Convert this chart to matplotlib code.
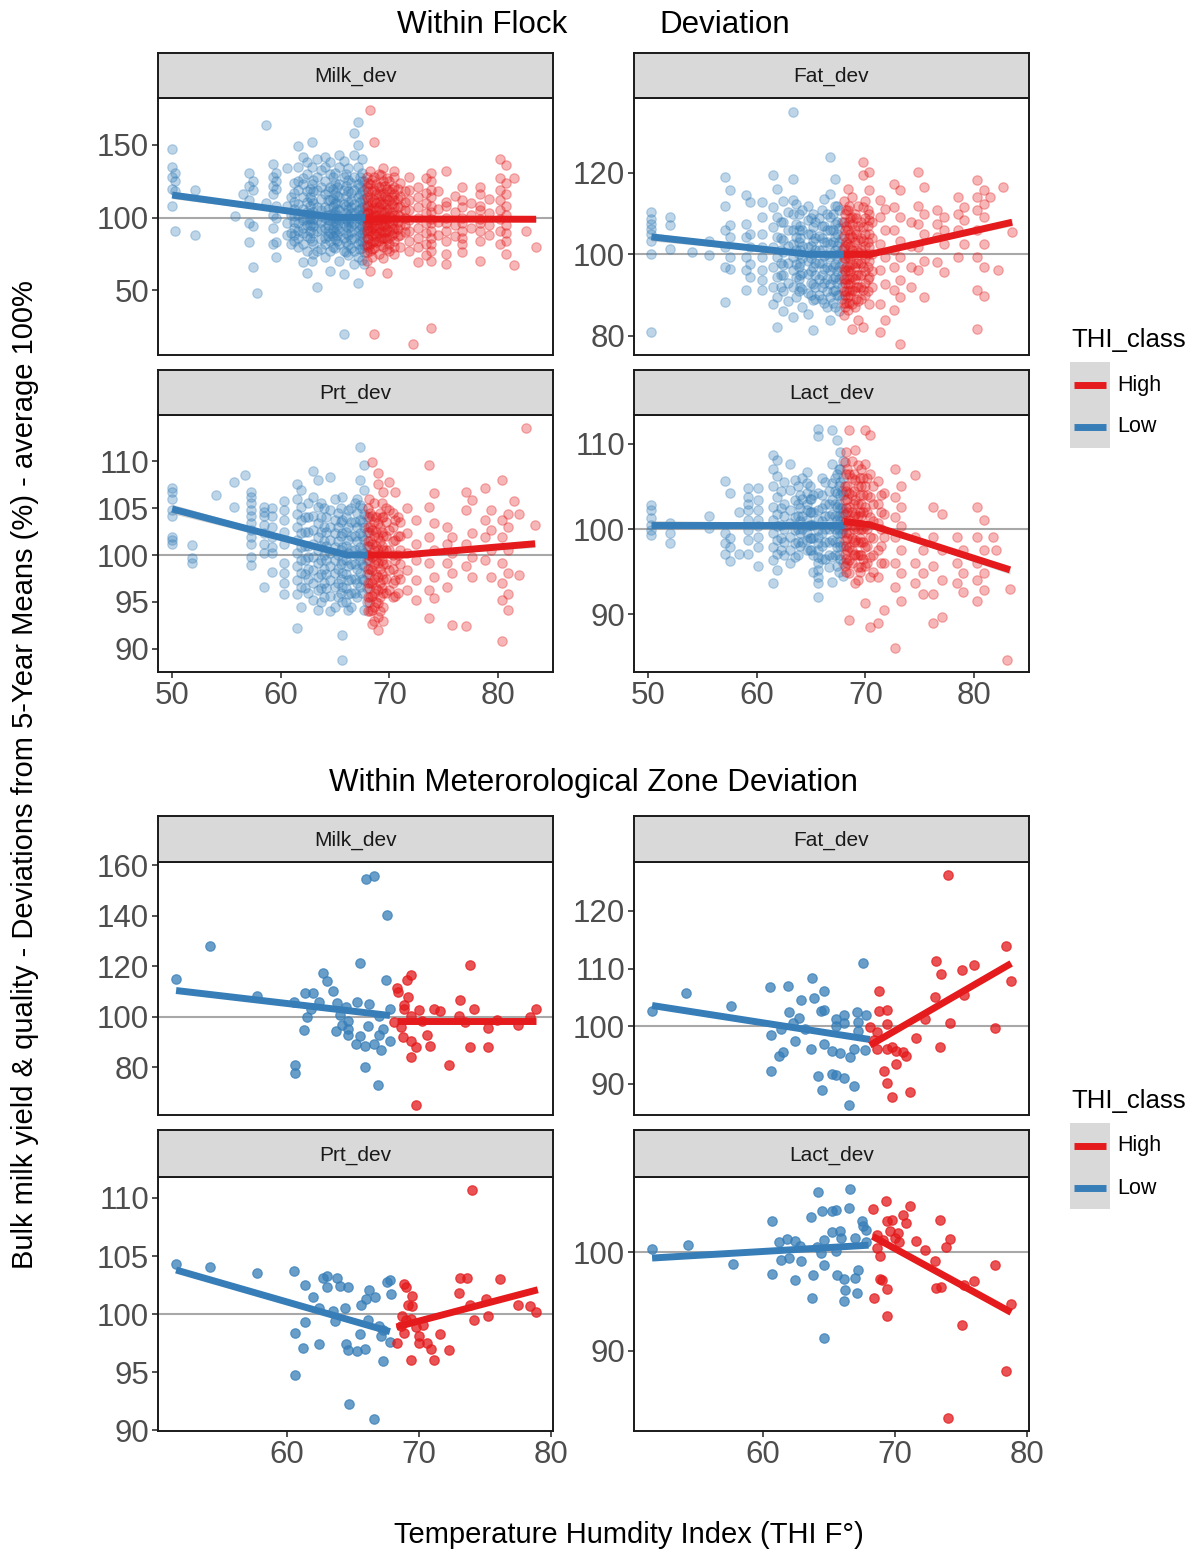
import matplotlib
matplotlib.use('Agg')
import matplotlib.pyplot as plt
from matplotlib.patches import Rectangle
from matplotlib.lines import Line2D
import numpy as np

plt.rcParams['font.family'] = ['Liberation Sans', 'DejaVu Sans']

RED = '#E41A1C'
BLUE = '#377EB8'

# ---------------- Within Flock deviation (columns of points) ----------------
# Milk_dev
mf_low_cols = [50.0, 50.3, 52.1, 55.8, 56.5, 57.1, 57.4, 57.8, 58.6, 59.3, 59.6, 60.6, 60.9, 61.6, 62.0, 62.4,
               62.9, 63.3, 63.7, 64.1, 64.5, 65.0, 65.4, 65.8, 66.2, 66.7, 67.1, 67.5,
               61.2, 63.0, 64.8, 66.0, 67.7, 64.3, 65.2, 66.5, 67.3, 62.7]
mf_low_vals = [[147, 135, 128, 120, 108], [131, 125, 118, 91], [119, 88], [101], [116],
               [131, 122, 112, 96, 83], [125, 119, 94, 66], [48], [164, 110],
               [137, 128, 122, 116, 102, 93, 82], [131, 125, 120, 108, 100, 83, 73],
               [134, 108, 96, 88], [114, 102, 89, 82],
               [149, 135, 125, 119, 109, 102, 96, 91, 86, 80], [142, 127, 123, 114, 106, 100, 98, 93, 89, 82, 69],
               [138, 130, 118, 111, 104, 99, 95, 87, 77, 62], [152, 135, 123, 112, 102, 96, 84, 70],
               [140, 128, 119, 107, 98, 91, 77, 52], [133, 121, 113, 105, 101, 97, 92, 85, 78],
               [142, 135, 125, 116, 107, 100, 93, 86, 82, 73], [138, 130, 121, 112, 102, 98, 89, 84, 77, 63],
               [131, 124, 117, 110, 104, 100, 96, 90, 85, 79], [143, 135, 123, 114, 105, 98, 91, 82, 70],
               [139, 128, 119, 109, 100, 96, 86, 77, 61, 20], [134, 126, 118, 111, 106, 101, 97, 93, 88, 81, 74],
               [158, 143, 128, 119, 109, 103, 96, 86, 77, 68], [166, 150, 135, 123, 114, 105, 100, 91, 82, 73, 55],
               [140, 131, 125, 118, 112, 107, 102, 98, 94, 89, 84, 79, 71],
               [124, 117, 111, 106, 101, 97, 93, 88, 84], [126, 118, 110, 104, 99, 94, 89, 82, 75],
               [128, 120, 113, 108, 103, 97, 92, 87, 80], [130, 122, 115, 108, 103, 99, 94, 89, 83, 76],
               [125, 119, 113, 108, 104, 100, 96, 91, 86, 81, 76, 68],
               [118, 112, 106, 102, 98, 95, 91, 87], [121, 115, 110, 106, 102, 99, 95, 92, 88, 84],
               [124, 117, 112, 107, 103, 100, 97, 94, 90, 85, 79], [128, 121, 116, 111, 106, 102, 99, 95, 92, 88, 84, 78],
               [120, 114, 108, 103, 99, 95, 91, 86]]
mf_high_cols = [67.9, 68.2, 68.6, 69.0, 69.4, 69.8, 70.4, 71.0, 71.8, 72.2, 72.6, 73.4, 73.8, 74.5, 75.2,
                76.0, 76.7, 77.5, 78.3, 79.2, 80.2, 80.7, 81.5, 82.6, 83.5,
                68.4, 69.2, 70.0, 70.8, 68.0, 68.8, 69.6, 70.2, 71.4]
mf_high_vals = [[128, 121, 114, 108, 103, 99, 95, 91, 86, 81, 76, 70], [174, 132, 123, 114, 105, 100, 96, 91, 82, 77, 63],
                [152, 128, 119, 112, 107, 102, 98, 94, 89, 84, 79, 20], [130, 121, 116, 111, 107, 102, 98, 93, 89, 84, 75],
                [134, 125, 117, 110, 104, 99, 95, 90, 86, 80, 72], [127, 120, 113, 106, 99, 92, 85, 78, 62],
                [132, 128, 121, 116, 112, 107, 102, 98, 93, 89, 84, 80, 75], [124, 115, 108, 101, 95, 88, 80],
                [128, 119, 112, 105, 98, 91, 84, 77], [13], [121, 114, 107, 100, 93, 86, 80, 69],
                [127, 117, 110, 103, 96, 89, 82, 74], [131, 125, 119, 114, 108, 104, 99, 96, 91, 86, 82, 77, 70, 24],
                [118, 106, 97, 88], [132, 111, 108, 100, 96, 91, 84, 75, 68], [115, 104, 95, 87],
                [121, 112, 107, 100, 96, 91, 86, 82, 76], [110, 102, 93], [121, 116, 108, 105, 99, 96, 91, 84, 70],
                [113, 103, 95, 88], [140, 127, 119, 112, 105, 99, 91, 82], [136, 124, 116, 108, 102, 95, 89, 84, 75],
                [127, 67], [91], [80],
                [126, 118, 111, 106, 101, 97, 93, 88, 83, 78, 73], [129, 122, 115, 109, 104, 100, 96, 91, 86, 81],
                [125, 118, 112, 106, 101, 96, 91, 86, 82, 77], [120, 113, 107, 102, 97, 92, 87],
                [124, 118, 112, 107, 103, 100, 97, 93, 89, 85, 80], [123, 116, 110, 105, 101, 98, 95, 91, 87, 83],
                [122, 115, 109, 104, 100, 97, 94, 90, 86], [120, 114, 109, 104, 100, 96, 92, 88],
                [118, 111, 105, 100, 95, 90]]
mf_fit_low_x = [50.0, 65.0, 67.8]
mf_fit_low_y = [115.5, 100.0, 100.0]
mf_fit_low_se = [2.5, 0.8, 0.8]
mf_fit_high_x = [67.8, 83.5]
mf_fit_high_y = [99.0, 98.8]
mf_fit_high_se = [0.8, 1.6]

# Fat_dev
ff_low_cols = [50.3, 52.0, 54.0, 55.6, 57.1, 57.5, 59.0, 59.4, 60.5, 61.5, 61.9, 62.4, 62.9, 63.3, 63.6, 64.2,
               64.7, 65.2, 65.7, 66.2, 66.7, 67.2, 67.6,
               62.2, 63.9, 65.4, 66.5, 67.8, 64.0, 65.0, 66.0, 67.0, 67.4]
ff_low_vals = [[110.4, 108.8, 107.5, 106.3, 105.1, 103.4, 100.2, 80.9], [109.3, 107.1, 101.4], [100.6], [103.4, 99.8],
               [119.0, 112.0, 105.9, 101.8, 96.9, 88.3], [115.7, 107.1, 104.3, 99.3, 96.5],
               [114.5, 107.5, 104.3, 99.3, 96.1, 91.2], [112.8, 105.1, 101.8, 97.7, 94.4],
               [112.8, 109.2, 105.1, 101.8, 99.3, 96.1, 93.6, 91.2], [119.4, 111.6, 106.7, 101.8, 96.9, 92.0, 87.9],
               [116.1, 109.2, 104.3, 99.3, 94.4, 89.5, 82.2], [113.0, 108.0, 103.5, 100.5, 97.5, 95.0, 91.0, 86.0],
               [110.5, 106.0, 102.0, 98.0, 93.0, 88.5], [134.9, 118.6, 113.3, 110.0, 105.9, 102.6, 99.3, 96.1, 92.0, 84.6],
               [112.4, 107.5, 104.3, 101.0, 97.7, 94.4, 89.5], [111.0, 106.0, 102.0, 99.0, 95.5, 91.5, 87.0],
               [112.0, 108.4, 105.1, 101.8, 98.5, 95.3, 90.4, 85.4], [110.0, 106.7, 103.4, 100.2, 96.9, 92.8, 88.7, 81.4],
               [109.0, 104.5, 101.0, 98.0, 94.0, 90.0], [113.5, 107.0, 103.0, 99.5, 96.5, 93.0, 88.0],
               [123.9, 114.9, 109.2, 105.9, 102.6, 99.3, 96.1, 92.8, 89.5, 83.8],
               [118.6, 112.0, 107.5, 104.3, 101.0, 97.7, 94.4, 91.2, 87.1],
               [111.0, 106.5, 103.0, 100.0, 97.0, 94.0, 90.0, 86.0],
               [108, 104, 101, 98, 95, 92], [110, 106, 103, 100, 97, 94, 91], [108, 104, 101, 98, 95, 92, 89],
               [110, 106, 103, 100, 97, 94, 91, 87], [108, 104, 101, 98, 95, 92, 89],
               [107, 104, 101, 98, 95, 92], [109, 105, 102, 99, 96, 93, 90], [111, 107, 104, 101, 98, 95, 92, 89],
               [110, 106, 103, 100, 97, 94, 91, 88], [112, 108, 105, 102, 99, 96, 93, 90]]
ff_high_cols = [68.0, 68.4, 68.8, 69.3, 69.8, 70.3, 71.3, 71.8, 72.6, 73.2, 74.2, 74.8, 75.4, 76.6, 77.2, 78.5,
                79.1, 80.3, 80.9, 81.5, 82.2, 82.7, 83.5,
                68.2, 68.6, 69.0, 69.6, 70.0, 68.1, 68.5, 69.1, 70.2, 70.6]
ff_high_vals = [[113.0, 108.0, 104.5, 101.5, 99.0, 96.5, 94.0, 91.0, 88.0, 85.0],
                [116.1, 110.8, 105.9, 102.6, 99.3, 96.1, 92.8, 89.5, 86.3],
                [114.1, 109.2, 107.5, 104.3, 101.0, 97.7, 94.4, 91.2, 87.9, 81.8],
                [112.0, 107.0, 103.5, 100.5, 98.0, 95.0, 92.0, 88.5, 84.0],
                [122.7, 119.4, 111.6, 106.7, 103.4, 100.2, 96.9, 91.2, 82.2],
                [120.2, 115.7, 110.0, 108.4, 105.1, 101.8, 98.5, 94.4, 87.9],
                [113.3, 109.2, 102.6, 96.1, 87.9, 81.0], [111.2, 105.9, 99.3, 92.8, 83.8],
                [117.3, 111.6, 105.9, 101.0, 96.9, 91.2, 86.3], [115.7, 109.2, 103.4, 99.3, 93.6, 89.5, 78.1],
                [108.0, 102.0, 97.0, 92.0], [120.2, 112.0, 107.5, 101.8, 96.1], [116.5, 110.0, 105.1, 98.5, 89.5],
                [110.8, 107.5, 104.3, 98.1], [109.2, 105.9, 102.6, 95.7], [114.1, 110.0, 105.9, 99.3],
                [111.6, 108.4, 102.6], [118.2, 114.1, 110.8, 105.9, 99.3, 91.2, 81.8],
                [115.7, 112.4, 109.2, 102.6, 96.9, 89.9], [114.1], [96.1], [116.5], [105.5],
                [111, 107, 103, 100, 97, 94, 91, 88], [109, 105, 102, 99, 96, 93, 90],
                [110, 106, 103, 100, 97, 94, 91, 87], [108, 104, 101, 98, 95, 92, 89],
                [113, 109, 105, 102, 99, 96, 93, 90],
                [110, 106, 102, 99, 96, 93, 90, 87], [112, 108, 104, 100, 97, 94, 91, 88],
                [109, 105, 101, 98, 95, 92, 89], [111, 107, 103, 100, 97, 94, 91], [108, 104, 100, 96, 92]]
ff_fit_low_x = [50.3, 64.9, 68.0]
ff_fit_low_y = [104.3, 100.0, 100.0]
ff_fit_low_se = [1.0, 0.3, 0.3]
ff_fit_high_x = [68.0, 70.4, 83.5]
ff_fit_high_y = [100.0, 100.0, 107.9]
ff_fit_high_se = [0.3, 0.3, 0.9]

# Prt_dev
pf_low_cols = [50.0, 51.8, 54.0, 55.7, 56.7, 57.3, 58.5, 59.2, 60.3, 61.5, 61.9, 62.5, 63.0, 63.4, 64.0, 64.5,
               65.0, 65.6, 66.2, 66.8, 67.3, 67.7,
               62.2, 63.7, 65.3, 66.5, 67.9, 64.2, 65.5, 66.0, 67.0, 67.5]
pf_low_vals = [[107.1, 106.7, 106.0, 104.8, 104.1, 101.9, 101.6, 101.2], [101.1, 99.7, 99.1], [106.4], [107.8, 105.1],
               [108.5], [106.7, 106.2, 105.5, 104.8, 104.1, 103.4, 102.7, 101.9, 101.2, 99.8, 98.9],
               [105.1, 104.6, 104.1, 103.2, 102.3, 101.2, 100.2, 96.6], [105.0, 104.1, 103.0, 101.9, 100.9, 100.2, 98.2],
               [105.7, 104.8, 103.7, 102.5, 101.2, 99.1, 98.1, 97.0, 95.9],
               [107.6, 106.0, 104.4, 103.0, 101.6, 100.2, 98.8, 97.3, 95.9, 92.2],
               [106.9, 105.1, 103.7, 102.3, 100.9, 99.5, 98.1, 96.6, 94.5],
               [105.5, 104.0, 102.5, 101.0, 99.8, 98.5, 97.5, 96.0],
               [108.9, 106.2, 104.1, 102.7, 101.2, 99.8, 98.4, 97.0, 95.2],
               [108.0, 105.1, 103.4, 101.9, 100.5, 99.1, 97.7, 96.3, 94.2],
               [105.0, 103.0, 101.5, 100.0, 98.5, 97.0, 95.5],
               [108.3, 104.8, 103.0, 101.6, 100.2, 98.8, 97.3, 95.6, 94.0],
               [106.0, 103.7, 102.3, 100.9, 99.5, 98.1, 96.6, 94.5],
               [106.2, 103.7, 102.3, 100.9, 99.5, 98.1, 96.6, 95.0, 91.5, 88.8],
               [104.8, 103.0, 101.6, 100.2, 98.8, 97.3, 95.9, 94.2],
               [105.5, 103.5, 102.0, 100.5, 99.0, 97.5, 96.0],
               [111.5, 108.0, 105.3, 103.7, 102.3, 100.9, 99.5, 98.1, 96.6],
               [109.6, 106.9, 104.4, 103.0, 101.6, 100.2, 98.8, 97.3, 94.2],
               [104, 102.5, 101, 99.5, 98, 96.5], [105.5, 104, 102.5, 101, 99.5, 98, 96.5, 95],
               [104.5, 103, 101.5, 100, 98.5, 97, 95.5], [105, 103.5, 102, 100.5, 99, 97.5, 96, 94.5],
               [104, 102.5, 101, 99.5, 98, 96.5, 95],
               [104, 102.5, 101, 99.5, 98, 96.5], [105, 103.5, 102, 100.5, 99, 97.5, 96],
               [104, 102.5, 101, 99.5, 98, 96.5, 95], [106, 104.5, 103, 101.5, 100, 98.5, 97, 95.5],
               [105, 103.5, 102, 100.5, 99, 97.5, 96]]
pf_high_cols = [68.0, 68.4, 68.9, 69.4, 70.0, 70.5, 71.6, 72.4, 73.6, 74.1, 75.3, 75.8, 77.0, 77.6, 78.8, 79.3,
                80.4, 80.9, 81.5, 81.9, 82.6, 83.4,
                68.2, 68.6, 69.1, 69.7, 70.8, 68.1, 68.8, 69.3, 70.3, 71.0]
pf_high_vals = [[105.0, 103.0, 101.5, 100.0, 98.5, 97.0, 95.5, 94.0],
                [109.9, 104.1, 102.7, 101.2, 99.8, 98.4, 97.0, 95.6, 94.2, 92.7],
                [108.7, 107.6, 103.4, 101.9, 100.5, 99.1, 97.7, 96.3, 94.9, 93.4, 92.0],
                [106.7, 104.0, 102.0, 100.5, 99.0, 97.5, 96.0, 94.5, 93.0],
                [107.8, 104.8, 102.7, 100.5, 98.4, 96.3], [106.7, 103.7, 101.6, 99.5, 97.3, 95.6],
                [105.0, 102.3, 100.2, 98.4, 96.3], [103.7, 101.2, 99.5, 97.3, 95.2],
                [109.6, 105.1, 101.9, 99.1, 96.3, 93.3], [106.6, 103.4, 100.5, 97.7, 95.4],
                [103.0, 101.2, 99.1, 96.6], [101.9, 100.2, 98.1, 92.6], [106.7, 104.8, 101.2, 98.8, 92.4],
                [105.9, 102.3, 99.8, 97.7], [107.1, 103.7, 101.9, 99.5], [104.8, 102.7, 100.5, 97.7],
                [108.0, 103.7, 101.9, 99.1, 97.0, 95.2, 90.8], [104.4, 103.0, 100.5, 98.1, 95.9, 94.2],
                [105.7], [104.4, 97.9], [113.5], [103.2],
                [104.5, 103, 101.5, 100, 98.5, 97, 95.5, 94], [105.5, 103.5, 102, 100.5, 99, 97.5, 96, 94.5, 93],
                [104.5, 103, 101.5, 100, 98.5, 97, 95.5, 94], [105, 103.5, 102, 100.5, 99, 97.5, 96],
                [104, 102, 100, 98, 96],
                [106, 104, 102.5, 101, 99.5, 98, 96.5, 95], [104, 102.5, 101, 99.5, 98, 96.5, 95],
                [105.5, 104, 102.5, 101, 99.5, 98, 96.5], [104.5, 103, 101.5, 100, 98.5, 97, 95.5],
                [103.5, 102, 100.5, 99, 97.5]]
pf_fit_low_x = [50.0, 66.1, 68.0]
pf_fit_low_y = [104.9, 100.0, 100.0]
pf_fit_low_se = [0.5, 0.15, 0.15]
pf_fit_high_x = [68.0, 71.3, 83.4]
pf_fit_high_y = [100.0, 100.0, 101.2]
pf_fit_high_se = [0.15, 0.15, 0.4]

# Lact_dev
lf_low_cols = [50.3, 52.0, 55.6, 57.1, 57.5, 58.4, 59.2, 60.1, 61.5, 61.9, 62.5, 63.1, 63.5, 64.2, 64.6, 65.2,
               65.6, 66.3, 66.9, 67.4, 67.8,
               62.2, 63.8, 65.0, 66.0, 67.6, 67.95, 64.0, 64.9, 66.6, 67.2, 67.7]
lf_low_vals = [[102.8, 102.2, 101.3, 100.5, 99.9, 99.3], [100.7, 99.5, 98.3], [101.5, 100.1],
               [105.6, 99.5, 98.3, 97.1], [104.2, 98.9, 97.9, 96.2], [102.0, 97.1],
               [104.8, 103.8, 103.0, 102.2, 101.1, 99.9, 98.7, 97.1],
               [104.8, 103.4, 102.2, 101.1, 100.3, 99.1, 97.9, 95.6],
               [108.7, 107.1, 105.0, 102.6, 101.1, 99.5, 97.9, 96.4, 93.6],
               [108.1, 106.2, 103.8, 101.8, 100.3, 98.7, 97.1, 95.2], [105.5, 103.0, 101.5, 100.0, 98.5, 97.0],
               [107.7, 104.6, 102.2, 100.7, 99.1, 97.5, 96.0], [105.8, 103.4, 101.4, 99.9, 98.3, 96.7],
               [106.0, 103.5, 101.5, 100.0, 98.5],
               [106.7, 105.4, 104.2, 103.0, 102.2, 101.1, 100.3, 99.5, 98.7, 97.5],
               [104.0, 102.0, 100.5, 99.0, 97.0, 95.0],
               [111.8, 110.9, 104.2, 102.2, 101.1, 99.9, 99.1, 98.3, 97.5, 96.7, 96.0, 95.2, 94.4, 93.6, 92.0],
               [105.5, 103.0, 101.5, 100.0, 98.5, 96.5],
               [111.6, 107.7, 105.4, 103.4, 101.8, 100.3, 98.7, 96.7, 93.8],
               [110.5, 106.5, 104.2, 102.6, 101.1, 99.5, 97.9, 95.6], [104.5, 102.5, 101.5, 100.5, 99.5],
               [104.5, 102.5, 100.5, 99, 97.5], [105, 103, 101.5, 100, 98.5, 97], [103.5, 102, 100.5, 99, 97.5],
               [106, 104, 102.5, 101, 99.5, 98, 96.5], [107, 105, 103, 101.5, 100, 98.5, 97, 95],
               [108, 106, 104, 102, 100, 98, 96, 94.5],
               [104, 102.5, 101, 99.5, 98], [105, 103.5, 102, 100.5, 99, 97.5],
               [104.5, 103, 101.5, 100, 98.5, 97, 95.5], [106, 104.5, 103, 101.5, 100, 98.5, 97],
               [109, 107, 105.5, 104, 102.5, 101, 99.5, 98, 96.5]]
lf_high_cols = [68.1, 68.5, 69.0, 69.5, 70.0, 70.4, 71.2, 71.7, 72.7, 73.3, 74.6, 75.3, 76.2, 77.0, 78.4, 79.0,
                80.3, 80.9, 81.7, 82.0, 83.0, 83.3,
                68.2, 68.8, 69.3, 69.8, 70.7, 68.3, 68.9, 69.6, 70.1, 71.4]
lf_high_vals = [[107.9, 105.0, 103.4, 101.8, 100.3, 98.7, 97.1, 95.6],
                [111.6, 106.5, 104.2, 102.6, 101.1, 99.5, 97.9, 96.4, 94.8, 89.3],
                [109.3, 105.8, 103.4, 101.8, 100.3, 98.7, 97.1, 93.6],
                [106.0, 104.0, 102.0, 100.5, 99.0, 97.0, 95.0],
                [111.6, 107.7, 105.0, 102.6, 100.3, 97.9, 95.6, 91.3],
                [111.1, 106.5, 103.8, 101.4, 99.1, 96.7, 94.4, 88.5],
                [105.6, 103.0, 100.7, 97.5, 94.4, 88.9], [104.2, 101.8, 99.1, 96.0, 90.5],
                [107.1, 103.8, 101.4, 99.1, 96.0, 93.2, 86.0], [105.0, 102.6, 100.3, 97.5, 94.8, 91.6],
                [106.4, 99.1, 96.0, 93.6], [97.5, 94.8, 92.4], [102.6, 99.1, 95.6, 92.4, 88.9],
                [101.8, 97.5, 94.0, 89.7], [99.1, 96.0, 93.6], [97.5, 94.8, 92.6],
                [102.6, 99.1, 96.0, 94.0, 91.6], [101.1, 97.5, 94.8, 92.8], [99.1], [97.5], [84.6], [93.0],
                [109, 106.5, 104.5, 102.5, 101, 99.5, 98, 96.5, 95], [108, 106, 104, 102, 100.5, 99, 97.5, 96],
                [107.5, 105, 103, 101.5, 100, 98.5, 97, 95.5, 94], [106, 104, 102, 100, 98.5, 96.5],
                [105, 103, 101, 99, 97, 95],
                [107, 105, 103.5, 102, 100.5, 99, 97.5, 96], [106.5, 104.5, 103, 101.5, 100, 98.5, 97],
                [107, 105, 103, 101.5, 100, 98.5, 97, 95.5], [106, 104, 102, 100, 98, 96],
                [104, 102, 100, 98, 96]]
lf_fit_low_x = [50.3, 68.0]
lf_fit_low_y = [100.5, 100.5]
lf_fit_low_se = [0.5, 0.2]
lf_fit_high_x = [68.0, 70.4, 83.3]
lf_fit_high_y = [100.9, 100.5, 95.2]
lf_fit_high_se = [0.2, 0.2, 0.5]

# ---------------- Within Meteorological Zone deviation ----------------
mz_low_x = [51.6, 54.2, 57.7, 60.5, 61.4, 62.0, 62.7, 63.0, 63.5, 62.4, 61.8, 61.5, 61.3, 63.8, 64.5, 64.0, 64.6,
            64.2, 63.7, 64.6, 64.6, 65.5, 65.3, 66.2, 65.5, 66.1, 65.2, 65.9, 65.9, 66.0, 66.6, 67.6, 67.5, 67.8,
            67.0, 67.3, 67.0, 67.8, 66.6, 67.1, 66.9, 60.6, 60.6]
mz_low_y = [114.9, 127.8, 108.3, 105.7, 109.4, 109.4, 117.3, 113.9, 110.3, 105.7, 103.0, 99.7, 94.5, 105.4, 103.7,
            100.7, 98.4, 96.7, 94.1, 95.1, 92.8, 121.1, 105.7, 105.0, 92.2, 96.2, 89.2, 88.5, 80.2, 154.5, 155.8,
            140.3, 114.3, 103.0, 100.4, 95.1, 92.8, 90.5, 89.2, 86.8, 72.7, 80.9, 77.7]
mz_high_x = [68.3, 68.4, 69.1, 69.4, 69.2, 68.9, 68.9, 70.0, 69.4, 68.1, 68.6, 68.8, 69.4, 69.8, 69.4, 70.6, 70.8,
             71.1, 71.6, 70.2, 72.3, 69.8, 73.1, 73.0, 73.9, 74.2, 73.9, 75.2, 75.2, 77.5, 78.4, 78.9, 73.5, 75.9]
mz_high_y = [111.2, 109.6, 114.3, 116.6, 107.6, 104.4, 102.8, 102.4, 100.4, 97.8, 95.8, 91.8, 90.5, 87.8, 83.9,
             92.8, 88.3, 103.0, 102.0, 98.1, 80.9, 65.0, 106.6, 100.4, 120.5, 103.0, 88.1, 95.4, 87.8, 96.7, 100.0,
             103.0, 98.0, 98.7]
mz_fit_low_x = [51.6, 67.8]
mz_fit_low_y = [110.3, 100.4]
mz_fit_high_x = [68.3, 78.9]
mz_fit_high_y = [98.1, 98.1]

fz_low_x = [51.6, 54.2, 57.6, 60.5, 61.9, 63.7, 64.6, 63.9, 62.9, 62.0, 62.7, 62.3, 64.4, 64.6, 65.5, 66.1, 66.1,
            65.5, 67.1, 67.8, 67.2, 67.6, 60.6, 61.4, 62.4, 63.6, 64.6, 65.2, 65.8, 66.6, 66.9, 67.7, 67.2, 61.2,
            61.5, 60.6, 64.2, 65.2, 65.5, 66.1, 64.5, 66.9, 66.5, 63.2]
fz_low_y = [102.6, 105.8, 103.6, 106.8, 106.9, 108.4, 106.1, 104.9, 104.6, 102.4, 101.5, 100.6, 102.6, 102.8, 101.2,
            102.0, 100.6, 100.1, 102.4, 102.0, 100.8, 111.0, 98.4, 99.6, 97.5, 96.0, 96.9, 95.7, 95.3, 94.7, 96.1,
            95.9, 99.2, 94.9, 95.6, 92.3, 91.4, 91.7, 91.5, 91.0, 88.9, 89.6, 86.4, 99.6]
fz_high_x = [68.8, 68.8, 69.4, 69.4, 68.1, 68.6, 68.4, 68.6, 69.4, 69.8, 70.1, 70.6, 70.8, 70.1, 69.2, 69.4, 69.8,
             71.1, 71.6, 72.3, 73.0, 73.1, 73.5, 73.4, 74.0, 74.2, 75.1, 75.2, 76.0, 77.6, 78.4, 78.8]
fz_high_y = [106.1, 102.7, 102.8, 100.4, 99.9, 99.0, 97.6, 96.1, 96.1, 96.4, 95.7, 95.6, 94.9, 93.4, 92.2, 90.1,
             87.8, 88.6, 98.0, 101.3, 105.1, 111.4, 109.0, 96.4, 126.2, 100.6, 109.7, 105.4, 110.6, 99.7, 113.9,
             107.8]
fz_fit_low_x = [51.6, 68.1]
fz_fit_low_y = [103.6, 97.7]
fz_fit_high_x = [68.1, 78.8]
fz_fit_high_y = [96.7, 110.9]

pz_low_x = [51.6, 54.2, 57.7, 60.5, 61.4, 62.7, 63.0, 63.0, 63.8, 64.0, 64.6, 66.2, 67.6, 67.8, 67.9, 66.7, 66.0,
            65.6, 62.0, 62.4, 63.5, 64.4, 63.6, 61.4, 60.6, 61.2, 62.4, 64.5, 64.6, 65.3, 65.9, 66.1, 65.5, 67.0,
            67.3, 67.1, 67.8, 67.3, 60.6, 64.7, 66.6]
pz_low_y = [104.3, 104.1, 103.5, 103.7, 102.5, 103.1, 103.3, 102.3, 103.1, 102.4, 102.3, 102.1, 102.8, 102.9, 101.7,
            101.5, 101.3, 100.8, 101.5, 100.5, 100.3, 100.5, 99.4, 99.3, 98.4, 97.1, 97.4, 97.4, 96.9, 96.8, 97.0,
            99.5, 98.3, 99.0, 98.6, 98.1, 97.6, 96.0, 94.8, 92.3, 91.0]
pz_high_x = [68.9, 69.0, 69.5, 69.2, 69.5, 68.7, 69.0, 68.6, 68.9, 69.4, 70.3, 69.8, 70.0, 70.0, 70.6, 70.9, 71.1,
             68.3, 69.4, 71.6, 72.3, 73.0, 73.1, 73.6, 74.0, 74.2, 73.9, 75.1, 75.2, 76.1, 77.5, 78.4, 78.9]
pz_high_y = [102.6, 102.3, 101.6, 100.8, 100.7, 99.8, 99.5, 99.0, 98.4, 99.6, 99.1, 98.9, 98.1, 97.5, 97.5, 97.0,
             96.1, 97.5, 96.1, 98.3, 96.9, 101.8, 103.1, 103.1, 110.7, 99.5, 100.8, 101.3, 99.8, 103.0, 100.8, 100.7,
             100.2]
pz_fit_low_x = [51.6, 67.8]
pz_fit_low_y = [103.8, 98.5]
pz_fit_high_x = [68.3, 79.0]
pz_fit_high_y = [98.9, 102.1]

lz_low_x = [51.6, 54.3, 57.7, 60.7, 60.7, 61.2, 61.8, 62.4, 62.8, 61.4, 62.0, 62.9, 62.4, 63.6, 64.2, 64.5, 65.2,
            65.5, 66.6, 66.5, 65.2, 65.8, 65.9, 64.6, 64.1, 64.4, 65.5, 63.8, 64.6, 65.6, 66.1, 67.0, 67.2, 66.2,
            66.1, 67.1, 63.7, 64.6, 67.5, 67.6, 67.8, 67.0, 67.8]
lz_low_y = [100.3, 100.7, 98.8, 103.1, 97.8, 101.0, 101.3, 101.1, 100.6, 99.2, 99.4, 99.1, 97.2, 103.6, 106.1, 104.2,
            104.2, 104.3, 106.4, 104.5, 102.0, 102.1, 101.4, 101.2, 100.5, 99.9, 100.1, 97.7, 98.7, 97.7, 97.3, 97.4,
            98.2, 96.2, 95.1, 95.9, 95.4, 91.3, 103.1, 102.6, 102.2, 101.4, 101.0]
lz_high_x = [68.3, 69.3, 71.1, 70.6, 69.8, 69.4, 70.8, 68.6, 69.6, 70.2, 70.0, 70.3, 69.1, 71.6, 68.6, 68.9, 72.3,
             73.4, 74.2, 73.9, 73.0, 68.9, 69.0, 69.4, 73.1, 73.5, 68.4, 69.4, 75.2, 76.0, 75.1, 77.6, 78.8, 78.4,
             74.0]
lz_high_y = [104.4, 105.2, 104.7, 103.8, 103.2, 103.1, 102.9, 101.7, 102.1, 101.9, 101.4, 101.0, 101.2, 101.1,
             100.4, 99.6, 100.2, 103.2, 101.3, 100.5, 99.1, 97.3, 97.2, 96.3, 96.4, 96.5, 95.4, 93.5, 96.7, 97.1,
             92.6, 98.7, 94.7, 88.0, 83.2]
lz_fit_low_x = [51.6, 68.0]
lz_fit_low_y = [99.4, 100.7]
lz_fit_high_x = [68.3, 78.8]
lz_fit_high_y = [101.6, 93.9]

# ---------------- figure ----------------
W, H = 1196, 1552
fig = plt.figure(figsize=(W / 100, H / 100), dpi=100)


def fx(px):
    return px / W


def fy(py):
    return 1 - py / H


def expand(cols, vals):
    xs, ys = [], []
    for c, v in zip(cols, vals):
        xs += [c] * len(v)
        ys += list(v)
    return np.array(xs), np.array(ys)


def panel(left, top, bottom, strip_top, name, low, high, fit_low, fit_high, ylim, yticks,
          xlim, xticks, show_x, alpha, msize, se_low=None, se_high=None):
    width = 395
    ax = fig.add_axes([fx(left), fy(bottom), width / W, (bottom - top) / H])
    ax.axhline(100, color='#A8A8A8', lw=1.5, zorder=1)
    ax.scatter(low[0], low[1], s=msize, color=BLUE, alpha=alpha, edgecolors=BLUE, linewidths=0.9, zorder=2)
    ax.scatter(high[0], high[1], s=msize, color=RED, alpha=alpha, edgecolors=RED, linewidths=0.9, zorder=2)
    for fit, se, col in ((fit_low, se_low, BLUE), (fit_high, se_high, RED)):
        fxs, fys = np.array(fit[0]), np.array(fit[1])
        if se is not None:
            se = np.array(se)
            ax.fill_between(fxs, fys - se, fys + se, color='#999999', alpha=0.4, lw=0, zorder=3)
        ax.plot(fxs, fys, color=col, lw=5, solid_capstyle='butt', solid_joinstyle='round', zorder=4)
    ax.set_xlim(*xlim)
    ax.set_ylim(*ylim)
    ax.set_xticks(xticks)
    ax.set_yticks(yticks)
    ax.set_yticklabels([str(t) for t in yticks])
    for sp in ax.spines.values():
        sp.set_linewidth(1.4)
        sp.set_color('#1a1a1a')
    ax.tick_params(length=4.5, width=1.2, labelsize=22.5, labelcolor='#4D4D4D', color='#333333', pad=2)
    if not show_x:
        ax.tick_params(axis='x', bottom=False, labelbottom=False)
    sa = fig.add_axes([fx(left), fy(top), width / W, (top - strip_top) / H])
    sa.set_facecolor('#D9D9D9')
    sa.set_xticks([])
    sa.set_yticks([])
    for sp in sa.spines.values():
        sp.set_linewidth(1.4)
        sp.set_color('#1a1a1a')
    sa.text(0.5, 0.47, name, ha='center', va='center', fontsize=15, color='#1A1A1A', transform=sa.transAxes)
    return ax


XL_TOP = (48.7, 85.05)
XL_BOT = (50.23, 80.15)
L, R = 158, 634
TOP_A, TOP_S = 0.32, 46
BOT_A, BOT_S = 0.75, 46

panel(L, 98, 355, 53, 'Milk_dev', expand(mf_low_cols, mf_low_vals), expand(mf_high_cols, mf_high_vals),
      (mf_fit_low_x, mf_fit_low_y), (mf_fit_high_x, mf_fit_high_y), (5.2, 182.4), [50, 100, 150],
      XL_TOP, [50, 60, 70, 80], False, TOP_A, TOP_S, mf_fit_low_se, mf_fit_high_se)
panel(R, 98, 355, 53, 'Fat_dev', expand(ff_low_cols, ff_low_vals), expand(ff_high_cols, ff_high_vals),
      (ff_fit_low_x, ff_fit_low_y), (ff_fit_high_x, ff_fit_high_y), (75.3, 138.4), [80, 100, 120],
      XL_TOP, [50, 60, 70, 80], False, TOP_A, TOP_S, ff_fit_low_se, ff_fit_high_se)
panel(L, 415, 672, 370, 'Prt_dev', expand(pf_low_cols, pf_low_vals), expand(pf_high_cols, pf_high_vals),
      (pf_fit_low_x, pf_fit_low_y), (pf_fit_high_x, pf_fit_high_y), (87.55, 114.9), [90, 95, 100, 105, 110],
      XL_TOP, [50, 60, 70, 80], True, TOP_A, TOP_S, pf_fit_low_se, pf_fit_high_se)
panel(R, 415, 672, 370, 'Lact_dev', expand(lf_low_cols, lf_low_vals), expand(lf_high_cols, lf_high_vals),
      (lf_fit_low_x, lf_fit_low_y), (lf_fit_high_x, lf_fit_high_y), (83.2, 113.4), [90, 100, 110],
      XL_TOP, [50, 60, 70, 80], True, TOP_A, TOP_S, lf_fit_low_se, lf_fit_high_se)

panel(L, 862, 1115, 816, 'Milk_dev', (mz_low_x, mz_low_y), (mz_high_x, mz_high_y),
      (mz_fit_low_x, mz_fit_low_y), (mz_fit_high_x, mz_fit_high_y), (61.0, 161.2), [80, 100, 120, 140, 160],
      XL_BOT, [60, 70, 80], False, BOT_A, BOT_S)
panel(R, 862, 1115, 816, 'Fat_dev', (fz_low_x, fz_low_y), (fz_high_x, fz_high_y),
      (fz_fit_low_x, fz_fit_low_y), (fz_fit_high_x, fz_fit_high_y), (84.6, 128.5), [90, 100, 110, 120],
      XL_BOT, [60, 70, 80], False, BOT_A, BOT_S)
panel(L, 1177, 1431, 1130, 'Prt_dev', (pz_low_x, pz_low_y), (pz_high_x, pz_high_y),
      (pz_fit_low_x, pz_fit_low_y), (pz_fit_high_x, pz_fit_high_y), (89.95, 111.8), [90, 95, 100, 105, 110],
      XL_BOT, [60, 70, 80], True, BOT_A, BOT_S)
panel(R, 1177, 1431, 1130, 'Lact_dev', (lz_low_x, lz_low_y), (lz_high_x, lz_high_y),
      (lz_fit_low_x, lz_fit_low_y), (lz_fit_high_x, lz_fit_high_y), (81.9, 107.6), [90, 100],
      XL_BOT, [60, 70, 80], True, BOT_A, BOT_S)

# titles and axis labels
fig.text(fx(482), fy(25), 'Within Flock', ha='center', va='center', fontsize=22.5, color='black')
fig.text(fx(725), fy(25), 'Deviation', ha='center', va='center', fontsize=22.5, color='black')
fig.text(fx(593), fy(783), 'Within Meterorological Zone Deviation', ha='center', va='center', fontsize=22.5,
         color='black')
fig.text(fx(25), fy(775), 'Bulk milk yield & quality - Deviations from 5-Year Means (%) - average 100%',
         ha='center', va='center', rotation=90, fontsize=21, color='black')
fig.text(fx(629), fy(1535), 'Temperature Humdity Index (THI F°)', ha='center', va='center', fontsize=21,
         color='black')

# legends
classes = ['High', 'Low']
class_colors = [RED, BLUE]


def legend(title_y):
    fig.text(fx(1071), fy(title_y), 'THI_class', ha='left', va='center', fontsize=18.5, color='black')
    top = title_y + 22
    fig.add_artist(Rectangle((fx(1070), fy(top + 86)), 40 / W, 86 / H, transform=fig.transFigure,
                             facecolor='#D9D9D9', edgecolor='none'))
    for i, (lab, col) in enumerate(zip(classes, class_colors)):
        yy = top + 23 + i * 42
        fig.add_artist(Line2D([fx(1074), fx(1106)], [fy(yy), fy(yy)], transform=fig.transFigure,
                              color=col, lw=5, solid_capstyle='butt'))
        fig.text(fx(1117), fy(yy), lab, ha='left', va='center', fontsize=15.5, color='black')


legend(340)
legend(1101)

fig.savefig('out.png', dpi=100)
